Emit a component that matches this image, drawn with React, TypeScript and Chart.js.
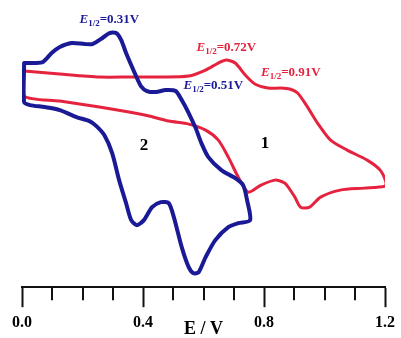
import React, { useEffect, useRef } from "react";
import { Chart, registerables } from "chart.js";

Chart.register(...registerables);

// Potential (V) and current (arbitrary units) for compound 2 (blue loop)
const blueE = [
  0.007, 0.043, 0.069, 0.098, 0.125, 0.164, 0.207, 0.233, 0.266, 0.289,
  0.311, 0.328, 0.344, 0.361, 0.377, 0.393, 0.413, 0.443, 0.475, 0.508,
  0.528, 0.551, 0.574, 0.593, 0.616, 0.659, 0.705, 0.731, 0.744, 0.754,
  0.715, 0.682, 0.639, 0.607, 0.584, 0.567, 0.551, 0.528, 0.502, 0.485,
  0.459, 0.43, 0.403, 0.38, 0.361, 0.344, 0.321, 0.298, 0.272, 0.246,
  0.223, 0.18, 0.125, 0.075, 0.026, 0.007, 0.007,
];
const blueI = [
  13.7, 13.7, 13.8, 14.7, 15.3, 15.7, 15.6, 15.6, 16.2, 16.7,
  16.7, 16.0, 14.7, 13.5, 12.4, 11.4, 10.9, 10.8, 11.0, 10.9,
  10.0, 8.7, 7.2, 5.7, 4.3, 3.0, 2.2, 1.5, 0.0, -2.0,
  -2.3, -2.7, -4.0, -5.7, -7.2, -7.3, -6.7, -4.7, -1.7, -0.3,
  -0.2, -0.7, -2.0, -2.5, -2.0, -0.3, 2.0, 4.7, 6.5, 7.4,
  7.9, 8.3, 9.0, 9.3, 9.5, 9.8, 13.7,
];

// Potential (V) and current (arbitrary units) for compound 1 (red loop)
const redE = [
  0.007, 0.125, 0.256, 0.354, 0.462, 0.551, 0.607, 0.649, 0.675, 0.705,
  0.738, 0.77, 0.813, 0.856, 0.885, 0.911, 0.944, 0.977, 1.02, 1.075,
  1.141, 1.184, 1.203, 1.2,
  1.131, 1.052, 0.987, 0.951, 0.921, 0.902, 0.869, 0.836, 0.79, 0.748,
  0.715, 0.682, 0.649, 0.607, 0.551, 0.485, 0.42, 0.354, 0.256, 0.125,
  0.007, 0.007,
];
const redI = [
  12.9, 12.6, 12.3, 12.3, 12.3, 12.4, 13.0, 13.7, 14.0, 13.7,
  12.5, 11.6, 11.2, 11.2, 11.1, 10.7, 9.3, 7.7, 6.0, 5.0,
  4.0, 3.0, 1.8, 1.4,
  1.2, 1.0, 0.3, -0.7, -0.7, 0.3, 1.7, 2.0, 1.5, 0.8,
  2.3, 4.3, 6.0, 7.0, 7.6, 7.9, 8.4, 8.8, 9.3, 9.9,
  10.4, 12.9,
];

const majorTicks = [0, 0.4, 0.8, 1.2];
const minorTicks = [0.1, 0.2, 0.3, 0.5, 0.6, 0.7, 0.9, 1.0, 1.1];
const xTitle = "E / V";

const halfWaveLabels = ["=0.31V", "=0.51V", "=0.72V", "=0.91V"];
const halfWaveE = [0.19, 0.534, 0.577, 0.79];
const halfWaveI = [18.0, 11.4, 15.2, 12.7];
const halfWaveSeries = ["blue", "blue", "red", "red"];

const curveNames = ["2", "1"];
const curveNameE = [0.403, 0.803];
const curveNameI = [5.4, 5.6];

const BLUE = "#1a1a96";
const RED = "#e6233f";
const AXIS = "#111111";
const SERIF = "'Liberation Serif', 'Times New Roman', serif";

const zip = (xs: number[], ys: number[]) => xs.map((x, i) => ({ x, y: ys[i] }));

const overlayPlugin = {
  id: "overlay",
  afterDraw(chart: any) {
    const ctx = chart.ctx as CanvasRenderingContext2D;
    const xs = chart.scales.x;
    const ys = chart.scales.y;
    ctx.save();
    // minor ticks
    ctx.strokeStyle = AXIS;
    ctx.lineWidth = 2;
    const top = chart.chartArea.bottom;
    minorTicks.forEach((v) => {
      const px = Math.round(xs.getPixelForValue(v));
      ctx.beginPath();
      ctx.moveTo(px, top);
      ctx.lineTo(px, top + 13);
      ctx.stroke();
    });
    // half-wave potential labels
    ctx.textBaseline = "middle";
    ctx.textAlign = "left";
    halfWaveLabels.forEach((txt, i) => {
      const color = halfWaveSeries[i] === "blue" ? BLUE : RED;
      ctx.fillStyle = color;
      let x = xs.getPixelForValue(halfWaveE[i]);
      const y = ys.getPixelForValue(halfWaveI[i]);
      ctx.font = `italic bold 13px ${SERIF}`;
      ctx.fillText("E", x, y);
      x += ctx.measureText("E").width;
      ctx.font = `bold 9px ${SERIF}`;
      ctx.fillText("1/2", x, y + 4);
      x += ctx.measureText("1/2").width;
      ctx.font = `bold 13px ${SERIF}`;
      ctx.fillText(txt, x, y);
    });
    // curve numbers
    ctx.textAlign = "center";
    ctx.fillStyle = "#000";
    ctx.font = `bold 17px ${SERIF}`;
    curveNames.forEach((n, i) => {
      ctx.fillText(n, xs.getPixelForValue(curveNameE[i]), ys.getPixelForValue(curveNameI[i]));
    });
    ctx.restore();
  },
};

export default function App() {
  const ref = useRef<HTMLCanvasElement>(null);
  useEffect(() => {
    document.body.style.margin = "0";
    const chart = new Chart(ref.current as HTMLCanvasElement, {
      type: "scatter",
      data: {
        datasets: [
          {
            label: "2",
            data: zip(blueE, blueI),
            showLine: true,
            borderColor: BLUE,
            borderWidth: 4,
            pointRadius: 0,
            tension: 0.25,
            borderJoinStyle: "round",
            borderCapStyle: "round",
          },
          {
            label: "1",
            data: zip(redE, redI),
            showLine: true,
            borderColor: RED,
            borderWidth: 3,
            pointRadius: 0,
            tension: 0.25,
            borderJoinStyle: "round",
            borderCapStyle: "round",
          },
        ],
      },
      options: {
        responsive: false,
        animation: false,
        devicePixelRatio: 1,
        layout: { padding: { left: 22, right: 13, top: 10, bottom: 0 } },
        plugins: { legend: { display: false }, tooltip: { enabled: false } },
        scales: {
          x: {
            type: "linear",
            min: 0,
            max: 1.2,
            afterBuildTicks: (scale: any) => {
              scale.ticks = majorTicks.map((v) => ({ value: v }));
            },
            border: { display: true, color: AXIS, width: 2 },
            grid: {
              display: true,
              drawOnChartArea: false,
              drawTicks: true,
              tickLength: 20,
              tickWidth: 2,
              tickColor: AXIS,
            },
            ticks: {
              padding: 6,
              color: "#000",
              font: { family: SERIF, size: 16, weight: "bold" },
              callback: (v: any) => Number(v).toFixed(1),
              maxRotation: 0,
            },
            title: {
              display: true,
              text: xTitle,
              color: "#000",
              font: { family: SERIF, size: 18, weight: "bold" },
              padding: { top: -20, bottom: -2 },
            },
          },
          y: {
            type: "linear",
            display: false,
            min: -8.7,
            max: 19,
          },
        },
      },
      plugins: [overlayPlugin],
    } as any);
    return () => chart.destroy();
  }, []);
  return (
    <div style={{ width: 401, height: 338, background: "#fff" }}>
      <canvas ref={ref} width={401} height={338} style={{ display: "block" }} />
    </div>
  );
}
